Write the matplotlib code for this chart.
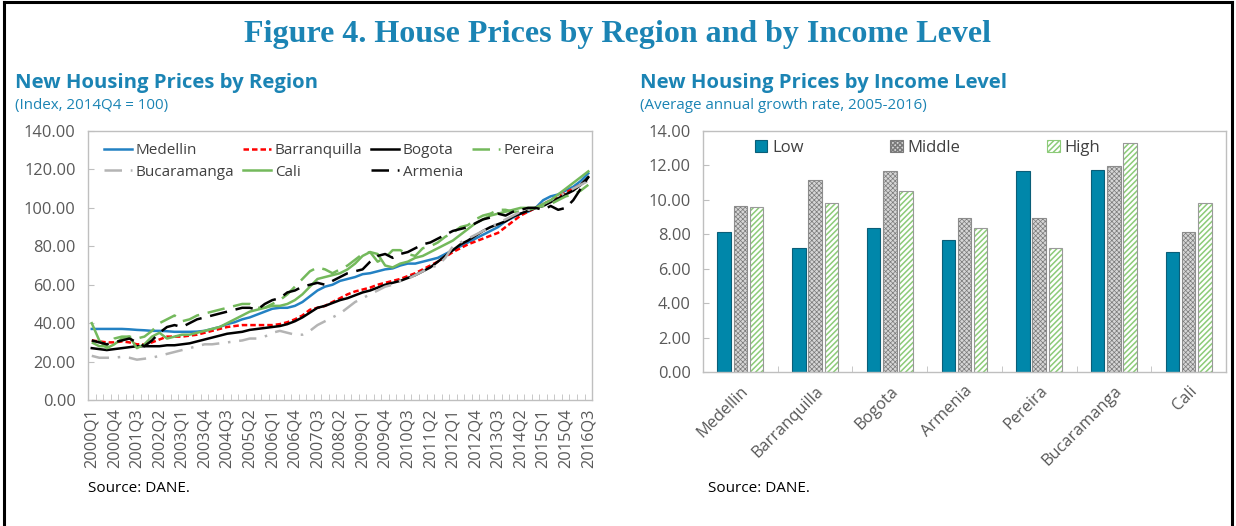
import matplotlib

matplotlib.use("Agg")
import matplotlib.pyplot as plt
import numpy as np
from matplotlib.patches import Rectangle
from matplotlib.lines import Line2D

plt.rcParams["font.family"] = ["Open Sans", "DejaVu Sans"]

# quarterly index, 2014Q4 = 100
quarters = [f"{y}Q{q}" for y in range(2000, 2017) for q in range(1, 5)][:67]

medellin = [37, 37, 37, 37, 37, 36.8, 36.5, 36.3, 36, 36,
            35.8, 35.5, 35.5, 35.5, 35.6, 36, 37, 38, 39.5, 40.5,
            42, 43, 44.5, 46, 47.5, 48, 48, 49, 51, 54,
            57, 59, 60, 62, 63, 64, 65.5, 66, 67, 68,
            68.5, 70, 71, 71, 72, 73, 74, 76, 78, 80,
            82, 84, 86, 88, 90, 93, 95, 97, 98, 100,
            104, 106, 107, 109, 111, 114, 118]
barranquilla = [31, 30.5, 30, 30, 30.5, 30, 29, 29, 30, 31.5,
                33, 33, 33, 33.5, 34, 35, 36, 37, 38, 38.5,
                39, 39, 39, 39, 39, 39.5, 40.5, 42, 44, 47,
                48, 49, 51, 53, 55, 56.5, 57.5, 58.5, 60, 61,
                62, 63, 64.5, 66, 68, 70, 72, 74.5, 77, 79,
                81, 82.5, 84, 85.5, 87, 90, 93, 96, 98, 100,
                102, 104, 106, 108, 110, 112, 115]
bogota = [27, 26.5, 26, 26.5, 27, 27.5, 28, 28, 28, 28,
          28.5, 28.5, 29, 29.5, 30.5, 31.5, 32.5, 33.5, 34.5, 35,
          35.5, 36.5, 37, 37.5, 38, 38.5, 39.5, 41, 43, 45.5,
          48, 49, 50.5, 52, 53, 54.5, 56, 57, 58.5, 60,
          61, 62, 63.5, 65, 67, 69, 72, 75, 78, 81,
          83, 85.5, 88, 90, 91.5, 93, 95.5, 97, 98.5, 100,
          101, 103, 105, 107, 109, 112, 116]
pereira = [30, 28, 28, 32, 33, 33, 32, 33, 36, 40,
           42, 44, 41, 42, 44, 45, 46, 47, 48, 49,
           50, 50, 48, 48, 50, 52, 55, 59, 63, 67,
           69, 68, 66, 68, 70, 73, 76, 77, 72, 74,
           78, 78, 76, 75, 79, 80, 82, 85, 87, 90,
           91, 94, 96, 97, 99, 99, 98, 98, 99, 100,
           101, 102, 104, 106, 107, 109, 112]
bucaramanga = [23, 22, 22, 22, 22.5, 22, 21, 21.5, 22, 23,
               24, 25, 26, 27, 28, 29, 29, 29.5, 30, 30.5,
               31, 32, 32, 33, 35, 36, 35, 34, 34, 36,
               39, 41, 43, 45, 48, 51, 53, 55, 57, 59,
               60, 62, 63, 65, 67, 69, 70, 74, 80, 82,
               84, 86, 88, 90, 92, 94, 96, 98, 99, 100,
               102, 104, 106, 108, 110, 112, 114]
cali = [40, 31, 27, 29, 32, 33, 27, 29, 33, 35,
        32, 33, 34, 34, 35, 36, 37, 38, 40, 42,
        44, 46, 47, 48, 49, 49, 50, 52, 55, 59,
        63, 64, 65, 66, 68, 71, 75, 77, 76, 70,
        69, 71, 72, 74, 75, 77, 79, 81, 83, 86,
        89, 92, 94, 96, 97, 98, 99, 100, 100, 100,
        102, 104, 107, 110, 113, 116, 119]
armenia = [31, 30, 29, 30, 31, 32, 30, 28, 31, 35,
           38, 39, 38, 40, 42, 43, 44, 45, 46, 47,
           48, 48, 47, 50, 52, 53, 56, 57, 59, 60,
           61, 60, 62, 64, 66, 67, 68, 72, 75, 76,
           74, 76, 77, 79, 81, 82, 84, 86, 88, 89,
           90, 92, 94, 95, 97, 96, 98, 99, 100, 100,
           99, 101, 99, 100, 104, 110, 116]

# average annual growth rate 2005-2016
cities = ["Medellin", "Barranquilla", "Bogota", "Armenia", "Pereira", "Bucaramanga", "Cali"]
low = [8.15, 7.2, 8.35, 7.65, 11.65, 11.75, 6.95]
middle = [9.65, 11.15, 11.65, 8.95, 8.95, 11.95, 8.15]
high = [9.6, 9.8, 10.5, 8.35, 7.2, 13.3, 9.8]

TEAL = "#1B84B4"
TICK = "#595959"
FRAME = "#BFBFBF"

fig = plt.figure(figsize=(12.36, 5.26), dpi=100)

# outer black frame
fig.add_artist(Line2D([0.003, 0.003], [0, 0.996], transform=fig.transFigure, color="black", lw=2.2))
fig.add_artist(Line2D([0.003, 0.997], [0.996, 0.996], transform=fig.transFigure, color="black", lw=2.2))
fig.add_artist(Line2D([0.997, 0.997], [0, 0.996], transform=fig.transFigure, color="black", lw=2.2))

fig.text(0.5, 0.935, "Figure 4. House Prices by Region and by Income Level", ha="center", va="center",
         family="Liberation Serif", weight="bold", fontsize=23, color=TEAL)

fig.text(0.012, 0.843, "New Housing Prices by Region", ha="left", va="center",
         weight="bold", fontsize=14.6, color=TEAL)
fig.text(0.012, 0.800, "(Index, 2014Q4 = 100)", ha="left", va="center", fontsize=10.9, color=TEAL)
fig.text(0.518, 0.843, "New Housing Prices by Income Level", ha="left", va="center",
         weight="bold", fontsize=14.6, color=TEAL)
fig.text(0.518, 0.800, "(Average annual growth rate, 2005-2016)", ha="left", va="center",
         fontsize=10.9, color=TEAL)
fig.text(0.071, 0.072, "Source: DANE.", ha="left", va="center", fontsize=11, color="black")
fig.text(0.573, 0.072, "Source: DANE.", ha="left", va="center", fontsize=11, color="black")

# ---- left: line chart
ax = fig.add_axes([0.0712, 0.2395, 0.4078, 0.5114])
x = np.arange(len(quarters))
series = [
    ("Medellin", medellin, "#2381C3", "-"),
    ("Barranquilla", barranquilla, "#FF0000", (0, (2.2, 1.2))),
    ("Bogota", bogota, "#000000", "-"),
    ("Pereira", pereira, "#74B95C", (0, (7, 3.5))),
    ("Bucaramanga", bucaramanga, "#B4B4B4", (0, (7, 3.5, 1, 3.5))),
    ("Cali", cali, "#74B95C", "-"),
    ("Armenia", armenia, "#000000", (0, (7, 3.5))),
]
handles = {}
for name, vals, color, ls in series:
    (h,) = ax.plot(x, vals, color=color, linestyle=ls, lw=1.8, label=name)
    handles[name] = h

ax.set_xlim(-0.5, len(quarters) - 0.5)
ax.set_ylim(0, 140)
ax.set_yticks(np.arange(0, 141, 20))
ax.set_yticklabels([f"{v:.2f}" for v in np.arange(0, 141, 20)])
ax.set_xticks(x[::3])
ax.set_xticklabels(quarters[::3], rotation=90)
ax.set_xticks(np.arange(-0.5, len(quarters), 1), minor=True)
ax.tick_params(axis="x", which="major", length=0, pad=6, labelsize=11.8, colors=TICK)
ax.tick_params(axis="x", which="minor", length=4, direction="in", color=FRAME)
ax.tick_params(axis="y", length=4, direction="in", color=FRAME, labelsize=11.8, labelcolor=TICK, pad=9)
for s in ax.spines.values():
    s.set_color(FRAME)
    s.set_linewidth(1.0)

order = ["Medellin", "Bucaramanga", "Barranquilla", "Cali", "Bogota", "Armenia", "Pereira"]
ax.legend([handles[n] for n in order], order, loc="upper left", bbox_to_anchor=(0.005, 1.005), ncol=4,
          frameon=False, fontsize=11, handlelength=1.8, handletextpad=0.25, columnspacing=0.6,
          labelspacing=0.4, labelcolor="#404040")

# ---- right: grouped bars
bx = fig.add_axes([0.5688, 0.2928, 0.4231, 0.4582])
xc = np.arange(len(cities))
w = 0.18
off = 0.217
bx.bar(xc - off, low, w, color="#0087AA", edgecolor="#0A5E78", lw=0.8, label="Low")
plt.rcParams["hatch.linewidth"] = 0.5
bx.bar(xc, middle, w, color="#D6D6D6", edgecolor="#7A7A7A", hatch="xxxxxxx", lw=0)
bx.bar(xc, middle, w, fill=False, edgecolor="#8C8C8C", lw=0.8)
plt.rcParams["hatch.linewidth"] = 1.1
bx.bar(xc + off, high, w, color="white", edgecolor="#8CCB78", hatch="//////", lw=0)
bx.bar(xc + off, high, w, fill=False, edgecolor="#9A9A9A", lw=0.8)

leg_handles = [
    Rectangle((0, 0), 1, 1, facecolor="#0087AA", edgecolor="#0A5E78", lw=0.8),
    Rectangle((0, 0), 1, 1, facecolor="#D6D6D6", edgecolor="#7A7A7A", hatch="xxxxxxx", lw=0.8),
    Rectangle((0, 0), 1, 1, facecolor="white", edgecolor="#8CCB78", hatch="//////", lw=0.8),
]
bx.legend(leg_handles, ["Low", "Middle", "High"], loc="upper left", bbox_to_anchor=(0.07, 1.025), ncol=3,
          frameon=False, fontsize=12, handlelength=0.75, handleheight=0.75, handletextpad=0.3,
          columnspacing=5.2, labelcolor="#404040")

bx.set_xlim(-0.5, len(cities) - 0.5)
bx.set_ylim(0, 14)
bx.set_yticks(np.arange(0, 14.1, 2))
bx.set_yticklabels([f"{v:.2f}" for v in np.arange(0, 14.1, 2)])
bx.set_xticks(xc)
bx.set_xticklabels(cities, rotation=45, ha="right", rotation_mode="anchor")
bx.set_xticks(np.arange(-0.5, len(cities), 1), minor=True)
bx.tick_params(axis="x", which="major", length=0, pad=8, labelsize=11.8, colors=TICK)
bx.tick_params(axis="x", which="minor", length=4, direction="in", color=FRAME)
bx.tick_params(axis="y", length=4, direction="in", color=FRAME, labelsize=11.8, labelcolor=TICK, pad=9)
for s in bx.spines.values():
    s.set_color(FRAME)
    s.set_linewidth(1.0)

fig.savefig("out.png", dpi=100)
